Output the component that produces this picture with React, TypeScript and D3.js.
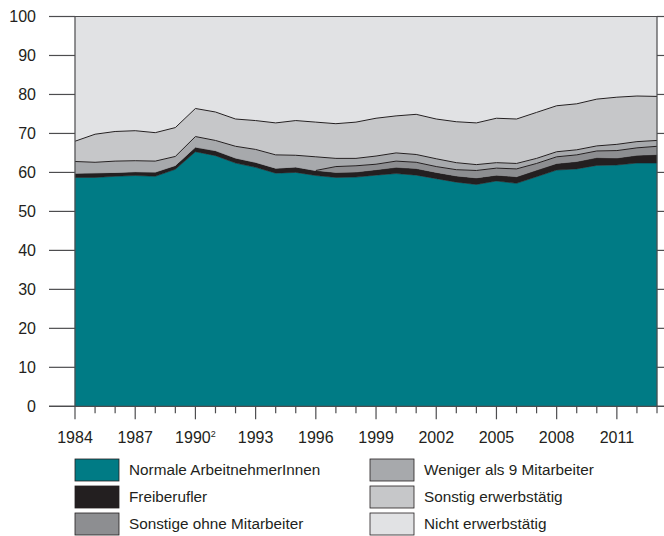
import React, { useEffect, useRef } from "react";
import * as d3 from "d3";

// Jahre 1984 - 2013
const years = d3.range(1984, 2014);

// Anteile in Prozent, von unten nach oben gestapelt
const normale = [58.7, 58.7, 59.0, 59.2, 59.0, 60.8, 65.3, 64.3, 62.4, 61.3, 59.8, 60.0, 59.2, 58.7, 58.8, 59.3, 59.7, 59.3, 58.4, 57.5, 56.9, 57.8, 57.2, 58.9, 60.6, 60.9, 61.8, 61.9, 62.4, 62.4];
const freiberufler = [1.1, 1.2, 1.0, 1.0, 1.1, 1.0, 1.2, 1.3, 1.3, 1.3, 1.3, 1.4, 1.3, 1.3, 1.3, 1.4, 1.6, 1.7, 1.6, 1.6, 1.7, 1.5, 1.7, 1.7, 1.7, 1.9, 2.0, 1.8, 2.0, 2.2];
const sonstigeOhne = [0, 0, 0, 0, 0, 0, 0, 0, 0, 0, 0, 0, 0, 1.5, 1.6, 1.4, 1.6, 1.6, 1.5, 1.6, 1.9, 1.8, 2.0, 1.7, 1.7, 1.7, 1.7, 1.9, 1.9, 2.1];
const weniger9 = [3.0, 2.7, 2.9, 2.8, 2.8, 2.3, 2.7, 2.6, 3.0, 3.3, 3.4, 3.0, 3.5, 2.1, 1.9, 2.1, 2.1, 2.0, 2.0, 1.8, 1.5, 1.4, 1.4, 1.3, 1.3, 1.3, 1.3, 1.6, 1.6, 1.5];
const sonstigErw = [5.2, 7.2, 7.6, 7.7, 7.3, 7.4, 7.2, 7.3, 7.0, 7.4, 8.2, 8.9, 8.9, 8.9, 9.3, 9.7, 9.5, 10.3, 10.2, 10.5, 10.7, 11.4, 11.4, 11.8, 11.8, 11.8, 12.0, 12.1, 11.7, 11.3];

const labels = [
  "Normale ArbeitnehmerInnen",
  "Freiberufler",
  "Sonstige ohne Mitarbeiter",
  "Weniger als 9 Mitarbeiter",
  "Sonstig erwerbstätig",
  "Nicht erwerbstätig",
];
const colors = ["#007b85", "#231f20", "#8d8e91", "#a7a9ac", "#c6c7c9", "#e1e2e4"];

const yTicks = d3.range(0, 101, 10);
const xLabelYears = d3.range(1984, 2012, 3);

const App = () => {
  const svgRef = useRef(null);

  useEffect(() => {
    const svg = d3.select(svgRef.current);
    svg.selectAll("*").remove();

    const left = 75;
    const right = 657;
    const top = 16.5;
    const bottom = 406.3;
    const font = "'Liberation Sans', Arial, sans-serif";
    const axisColor = "#4d4d4f";

    const x = d3.scaleLinear().domain([1984, 2013]).range([left, right]);
    const y = d3.scaleLinear().domain([0, 100]).range([bottom, top]);

    // Tabelle für d3.stack
    const rows = years.map((yr, i) => {
      const sum = normale[i] + freiberufler[i] + sonstigeOhne[i] + weniger9[i] + sonstigErw[i];
      return {
        year: yr,
        k0: normale[i],
        k1: freiberufler[i],
        k2: sonstigeOhne[i],
        k3: weniger9[i],
        k4: sonstigErw[i],
        k5: 100 - sum,
      };
    });
    const keys = ["k0", "k1", "k2", "k3", "k4", "k5"];
    const series = d3.stack().keys(keys)(rows);

    const area = d3.area()
      .x(d => x(d.data.year))
      .y0(d => y(d[0]))
      .y1(d => y(d[1]));

    series.forEach((s, i) => {
      svg.append("path")
        .attr("d", area(s))
        .attr("fill", colors[i])
        .attr("stroke", colors[i])
        .attr("stroke-width", 0.5);
    });

    // dünne Linien an den Oberkanten der grauen Flächen
    const topLine = d3.line()
      .x(d => x(d.data.year))
      .y(d => y(d[1]));
    [2, 3, 4].forEach(i => {
      let data = series[i];
      if (i === 2) data = data.filter(d => d.data.year >= 1996);  // erst ab 1996 getrennt
      svg.append("path")
        .attr("d", topLine(data))
        .attr("fill", "none")
        .attr("stroke", "#231f20")
        .attr("stroke-width", 1);
    });

    // Rahmen oben
    svg.append("line")
      .attr("x1", left).attr("x2", right)
      .attr("y1", top).attr("y2", top)
      .attr("stroke", axisColor).attr("stroke-width", 1.2);

    // y-Achsen links und rechts
    svg.append("line")
      .attr("x1", left).attr("x2", left)
      .attr("y1", top).attr("y2", bottom)
      .attr("stroke", axisColor).attr("stroke-width", 1.2);
    svg.append("line")
      .attr("x1", right).attr("x2", right)
      .attr("y1", top).attr("y2", bottom)
      .attr("stroke", axisColor).attr("stroke-width", 1.2);

    yTicks.forEach(t => {
      svg.append("line")
        .attr("x1", 49).attr("x2", left)
        .attr("y1", y(t)).attr("y2", y(t))
        .attr("stroke", axisColor).attr("stroke-width", 1.2);
      svg.append("line")
        .attr("x1", right).attr("x2", right + 7)
        .attr("y1", y(t)).attr("y2", y(t))
        .attr("stroke", axisColor).attr("stroke-width", 1.2);
      svg.append("text")
        .attr("x", 36)
        .attr("y", y(t))
        .attr("dy", "0.35em")
        .attr("text-anchor", "end")
        .attr("font-family", font)
        .attr("font-size", 16)
        .attr("fill", "#231f20")
        .text(t);
    });

    // x-Achse
    svg.append("line")
      .attr("x1", left - 26).attr("x2", right + 7)
      .attr("y1", bottom).attr("y2", bottom)
      .attr("stroke", axisColor).attr("stroke-width", 1.2);

    years.forEach(yr => {
      const major = (yr - 1984) % 3 === 0;
      svg.append("line")
        .attr("x1", x(yr)).attr("x2", x(yr))
        .attr("y1", bottom).attr("y2", bottom + (major ? 13 : 7))
        .attr("stroke", axisColor).attr("stroke-width", 1.2);
    });

    xLabelYears.forEach(yr => {
      const t = svg.append("text")
        .attr("x", x(yr))
        .attr("y", 443)
        .attr("text-anchor", "middle")
        .attr("font-family", font)
        .attr("font-size", 16)
        .attr("fill", "#231f20");
      t.append("tspan").text(yr);
      if (yr === 1990) {
        t.append("tspan")
          .attr("dy", -6)
          .attr("font-size", 9)
          .text("2");
      }
    });

    // Legende
    labels.forEach((lab, i) => {
      const col = Math.floor(i / 3);
      const row = i % 3;
      const sx = col === 0 ? 75 : 370;
      const cy = 470 + row * 27;
      svg.append("rect")
        .attr("x", sx)
        .attr("y", cy - 11)
        .attr("width", 44)
        .attr("height", 22)
        .attr("fill", colors[i])
        .attr("stroke", "#231f20")
        .attr("stroke-width", 0.8);
      svg.append("text")
        .attr("x", sx + 54)
        .attr("y", cy)
        .attr("dy", "0.35em")
        .attr("font-family", font)
        .attr("font-size", 15.3)
        .attr("fill", "#231f20")
        .text(lab);
    });
  }, []);

  return (
    <svg
      ref={svgRef}
      width={664}
      height={536}
      style={{ position: "absolute", left: 0, top: 0, background: "#fff" }}
    ></svg>
  );
};

export default App;
